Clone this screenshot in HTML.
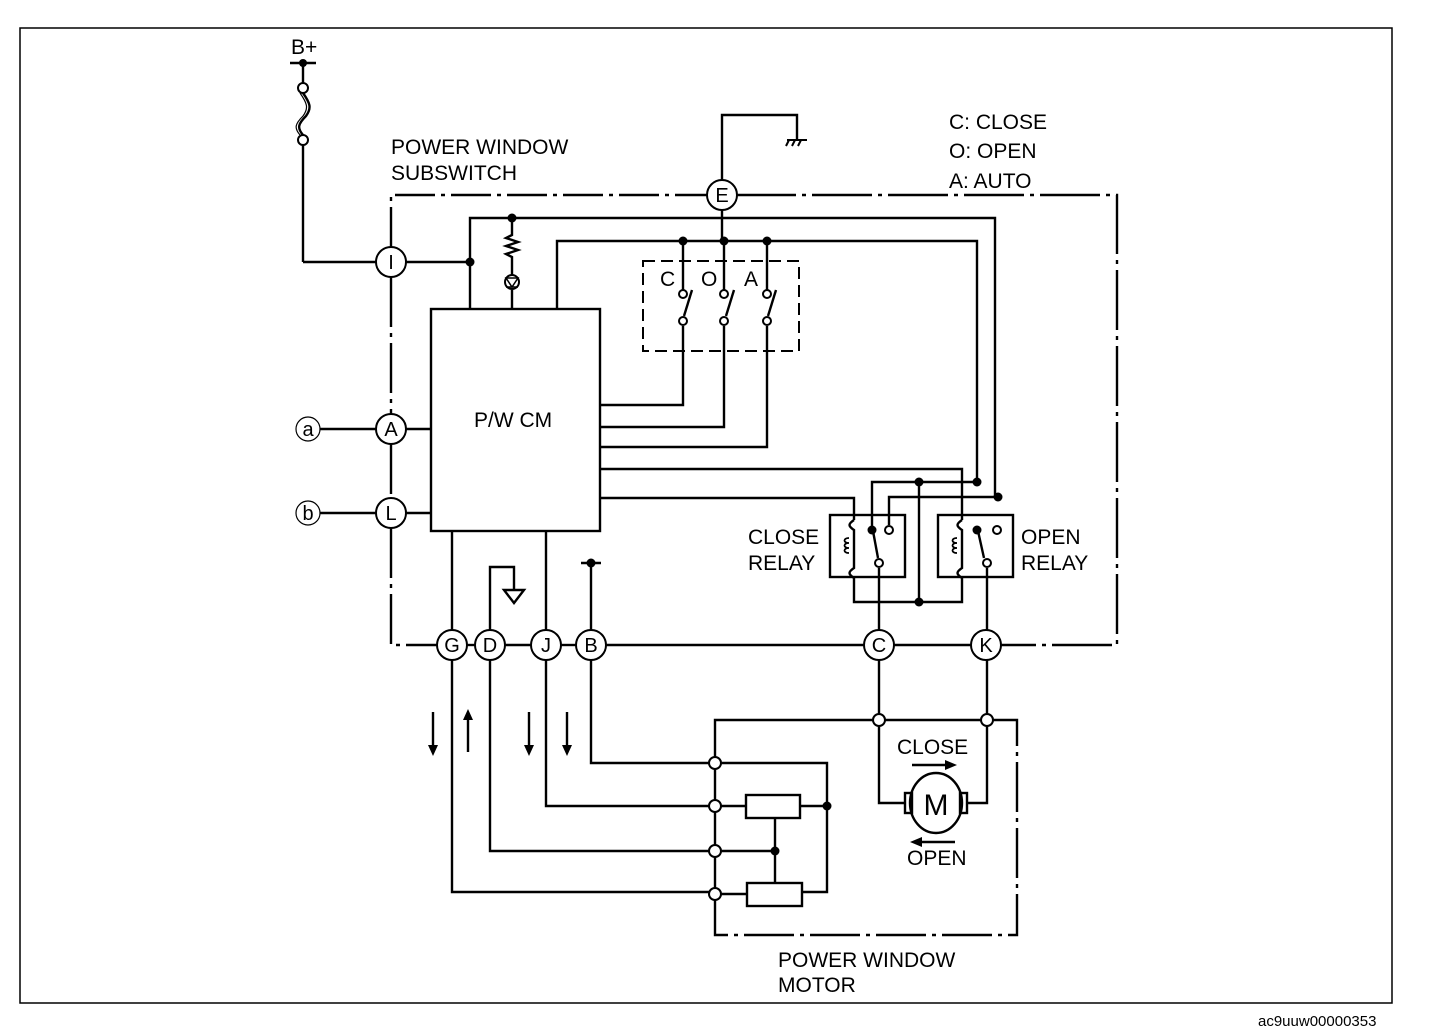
<!DOCTYPE html>
<html><head><style>
html,body{margin:0;padding:0;background:#fff;}
svg{display:block;}
text{font-family:"Liberation Sans",Arial,sans-serif;fill:#000;}
</style></head><body>
<svg width="1440" height="1034" viewBox="0 0 1440 1034" xmlns="http://www.w3.org/2000/svg">
<rect x="20" y="28" width="1372" height="975" fill="none" stroke="#000" stroke-width="1.5"/>
<g fill="none" stroke="#000" stroke-width="2.4">
<line x1="290" y1="63" x2="316" y2="63"/>
<line x1="303" y1="63" x2="303" y2="83"/>
<path d="M303 93 C310 103,312 108,306 116 C298 124,297 128,303 135"/>
<path d="M300 93 C307 103,309 108,303 116 C295 124,294 128,300 135" stroke-width="1.2"/>
<line x1="303" y1="145" x2="303" y2="262"/>
<line x1="303" y1="262" x2="376" y2="262"/>
<line x1="406" y1="262" x2="470" y2="262"/>
<path d="M391 247 V195 H708" stroke-dasharray="40 6 4 6"/>
<path d="M736 195 H1117 V645 H1001" stroke-dasharray="60 6 4 6"/>
<path d="M391 277 V414 M391 444 V498 M391 528 V645 H437" stroke-dasharray="50 6 4 6"/>
<path d="M470 309 V218 H995 V497"/>
<path d="M557 309 V241 H977 V482"/>
<line x1="722" y1="210" x2="722" y2="241"/>
<path d="M722 180 V115 H797 V140"/>
<path d="M512 218 V235 l-6 3 l12 4 l-12 4 l12 4 l-12 4 l6 3 V275 M512 290 V309"/>
<rect x="643" y="261" width="156" height="90" stroke-dasharray="12 6" stroke-width="2"/>
<path d="M683 241 V290 M683 326 V405 H600"/>
<path d="M724 241 V290 M724 326 V427 H600"/>
<path d="M767 241 V290 M767 326 V447 H600"/>
<line x1="684" y1="316" x2="692" y2="290"/>
<line x1="726" y1="316" x2="734" y2="290"/>
<line x1="768" y1="316" x2="776" y2="290"/>
<rect x="431" y="309" width="169" height="222"/>
<path d="M600 469 H962 V520"/>
<path d="M600 498 H854 V520"/>
<path d="M872 530 V482 H977"/>
<path d="M889 525 V497 H998"/>
<line x1="919" y1="482" x2="919" y2="602"/>
<rect x="830" y="515" width="75" height="62"/>
<rect x="938" y="515" width="75" height="62"/>
<path d="M854 520 c-6 4,-6 6,0 10 V568 c-6 4,-6 6,0 10 V602 H962 V578 c-6 -4,-6 -6,0 -10 V530 c-6 -4,-6 -6,0 -10"/>
<path d="M849 538 c-6 0,-6 5,0 5 c-6 0,-6 5,0 5 c-6 0,-6 5,0 5" stroke-width="1.8"/>
<path d="M957 538 c-6 0,-6 5,0 5 c-6 0,-6 5,0 5 c-6 0,-6 5,0 5" stroke-width="1.8"/>
<line x1="873" y1="531" x2="878" y2="558"/>
<line x1="978" y1="531" x2="984" y2="558"/>
<line x1="879" y1="568" x2="879" y2="630"/>
<line x1="987" y1="568" x2="987" y2="630"/>
<line x1="320" y1="429" x2="376" y2="429"/><line x1="406" y1="429" x2="431" y2="429"/>
<line x1="320" y1="513" x2="376" y2="513"/><line x1="406" y1="513" x2="431" y2="513"/>
<line x1="467" y1="645" x2="475" y2="645"/>
<line x1="505" y1="645" x2="531" y2="645"/>
<line x1="561" y1="645" x2="576" y2="645"/>
<path d="M606 645 H864" />
<line x1="894" y1="645" x2="971" y2="645"/>
<line x1="452" y1="531" x2="452" y2="630"/>
<line x1="546" y1="531" x2="546" y2="630"/>
<path d="M490 630 V567 H514 V590"/>
<path d="M504 590 H524 L514 603 Z"/>
<path d="M591 630 V563 M581 563 H601"/>
<line x1="433" y1="712" x2="433" y2="745"/>
<line x1="468" y1="720" x2="468" y2="752"/>
<line x1="529" y1="712" x2="529" y2="745"/>
<line x1="567" y1="712" x2="567" y2="745"/>
<path d="M452 660 V892 H709"/>
<path d="M490 660 V851 H709"/>
<path d="M546 660 V806 H709"/>
<path d="M591 660 V763 H709"/>
<path d="M879 660 V714 M987 660 V714"/>
<path d="M715 757 V720 H873"/>
<line x1="885" y1="720" x2="981" y2="720"/>
<path d="M993 720 H1017 V935 H715 V900" stroke-dasharray="50 6 4 6"/>
<line x1="715" y1="769" x2="715" y2="800"/>
<line x1="715" y1="812" x2="715" y2="845"/>
<line x1="715" y1="857" x2="715" y2="888"/>
<path d="M721 763 H827 V892 H802"/>
<path d="M721 806 H746 M800 806 H827"/>
<rect x="746" y="795" width="54" height="23"/>
<rect x="747" y="883" width="55" height="23"/>
<path d="M721 851 H775 M775 818 V883"/>
<path d="M721 894 H747"/>
<path d="M879 726 V803 H905 M966 803 H987 V726"/>
<rect x="905" y="793" width="7" height="20"/>
<rect x="960" y="793" width="7" height="20"/>
<ellipse cx="936" cy="803" rx="26" ry="30"/>
<line x1="912" y1="765" x2="945" y2="765"/>
<line x1="922" y1="842" x2="955" y2="842"/>
</g>
<g fill="#000">
<path d="M945 760 L957 765 L945 770 Z"/>
<path d="M922 837 L910 842 L922 847 Z"/>
<path d="M428 745 L433 756 L438 745 Z"/>
<path d="M463 720 L468 709 L473 720 Z"/>
<path d="M524 745 L529 756 L534 745 Z"/>
<path d="M562 745 L567 756 L572 745 Z"/>
<circle cx="303" cy="63" r="4"/><circle cx="470" cy="262" r="4.5"/><circle cx="512" cy="218" r="4.5"/>
<circle cx="683" cy="241" r="4.5"/><circle cx="724" cy="241" r="4.5"/><circle cx="767" cy="241" r="4.5"/>
<circle cx="919" cy="482" r="4.5"/><circle cx="977" cy="482" r="4.5"/><circle cx="998" cy="497" r="4.5"/>
<circle cx="919" cy="602" r="4.5"/><circle cx="872" cy="530" r="4.5"/><circle cx="977" cy="530" r="4.5"/>
<circle cx="591" cy="563" r="4.5"/><circle cx="827" cy="806" r="4.5"/><circle cx="775" cy="851" r="4.5"/>
</g>
<g fill="#fff" stroke="#000" stroke-width="2">
<circle cx="303" cy="88" r="5"/><circle cx="303" cy="140" r="5"/>
<circle cx="512" cy="282" r="7"/>
<circle cx="683" cy="294" r="4"/><circle cx="683" cy="321" r="4"/>
<circle cx="724" cy="294" r="4"/><circle cx="724" cy="321" r="4"/>
<circle cx="767" cy="294" r="4"/><circle cx="767" cy="321" r="4"/>
<circle cx="889" cy="530" r="4"/><circle cx="879" cy="563" r="4"/>
<circle cx="997" cy="530" r="4"/><circle cx="987" cy="563" r="4"/>
<circle cx="879" cy="720" r="6"/><circle cx="987" cy="720" r="6"/>
<circle cx="715" cy="763" r="6"/><circle cx="715" cy="806" r="6"/><circle cx="715" cy="851" r="6"/><circle cx="715" cy="894" r="6"/>
<circle cx="391" cy="262" r="15"/><circle cx="722" cy="195" r="15"/>
<circle cx="391" cy="429" r="15"/><circle cx="391" cy="513" r="15"/>
<circle cx="452" cy="645" r="15"/><circle cx="490" cy="645" r="15"/><circle cx="546" cy="645" r="15"/><circle cx="591" cy="645" r="15"/>
<circle cx="879" cy="645" r="15"/><circle cx="986" cy="645" r="15"/>
<circle cx="308" cy="429" r="12" stroke-width="1.2"/><circle cx="308" cy="513" r="12" stroke-width="1.2"/>
</g>
<path d="M506 278 H518 L512 287 Z M506 287 H518" fill="none" stroke="#000" stroke-width="1.5"/>
<path d="M787 140 H807 M789 140 l-3 6 M795 140 l-3 6 M801 140 l-3 6" stroke="#000" stroke-width="2" fill="none"/>
<g font-size="20" text-anchor="middle">
<text x="391" y="269">I</text><text x="722" y="202">E</text>
<text x="391" y="436">A</text><text x="391" y="520">L</text>
<text x="452" y="652">G</text><text x="490" y="652">D</text><text x="546" y="652">J</text><text x="591" y="652">B</text>
<text x="879" y="652">C</text><text x="986" y="652">K</text>
<text x="308" y="436">a</text><text x="308" y="520">b</text>
<text x="936" y="815" font-size="30">M</text>
</g>
<g font-size="21">
<text x="291" y="54">B+</text>
<text x="391" y="154">POWER WINDOW</text>
<text x="391" y="180">SUBSWITCH</text>
<text x="949" y="129">C: CLOSE</text>
<text x="949" y="158">O: OPEN</text>
<text x="949" y="188">A: AUTO</text>
<text x="660" y="286">C</text><text x="701" y="286">O</text><text x="744" y="286">A</text>
<text x="474" y="427">P/W CM</text>
<text x="748" y="544">CLOSE</text><text x="748" y="570">RELAY</text>
<text x="1021" y="544">OPEN</text><text x="1021" y="570">RELAY</text>
<text x="897" y="754">CLOSE</text>
<text x="907" y="865">OPEN</text>
<text x="778" y="967">POWER WINDOW</text>
<text x="778" y="992">MOTOR</text>
<text x="1258" y="1026" font-size="15">ac9uuw00000353</text>
</g>
</svg>
</body></html>
